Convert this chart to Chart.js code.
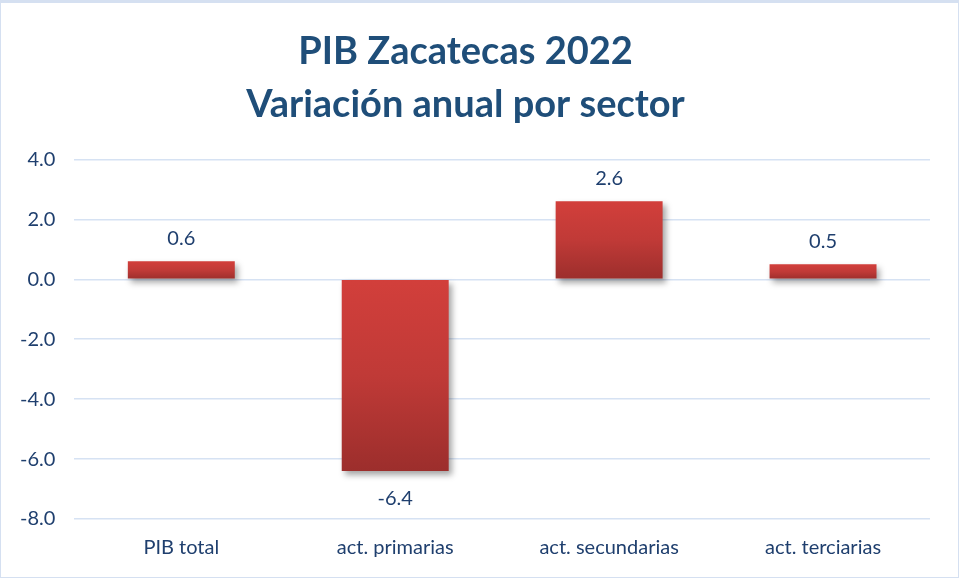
<!DOCTYPE html>
<html lang="es">
<head>
  <meta charset="utf-8">
  <title>PIB Zacatecas 2022</title>
  <script type="text/javascript" src="https://cdn.jsdelivr.net/npm/chart.js"></script>
  <style type="text/css">
    html, body { margin:0; padding:0; background:#fff; }
    #wrap { position:relative; width:957px; height:574px; border:1px solid #d5e0f1; border-top-width:3px; }
  </style>
</head>
<body>

  <div id="wrap">
    <canvas id="chart"></canvas>
  </div>

  <script type="text/javascript">
    const sectores = ['PIB total', 'act. primarias', 'act. secundarias', 'act. terciarias'];
    const variacion = [0.6, -6.4, 2.6, 0.5];
    const titulo = ['PIB Zacatecas 2022', 'Variación anual por sector'];

    const azul = '#1f3f6e';
    const fuente = 'Lato, "Open Sans", sans-serif';

    // vertical red gradient over each bar
    const barFill = (c) => {
      const chart = c.chart;
      if (!chart.chartArea || !chart.scales.y) return '#c0393a';
      const y = chart.scales.y;
      const v = c.raw;
      const top = y.getPixelForValue(Math.max(v, 0));
      const bot = y.getPixelForValue(Math.min(v, 0));
      const g = chart.ctx.createLinearGradient(0, top, 0, bot);
      g.addColorStop(0, '#d23f3b');
      g.addColorStop(0.5, '#c03a37');
      g.addColorStop(1, '#9c2e2c');
      return g;
    };

    const barShadow = {
      id: 'barShadow',
      beforeDatasetDraw(chart) {
        const ctx = chart.ctx;
        ctx.save();
        ctx.shadowColor = 'rgba(0,0,0,0.35)';
        ctx.shadowBlur = 6;
        ctx.shadowOffsetX = 3;
        ctx.shadowOffsetY = 4;
      },
      afterDatasetDraw(chart) {
        chart.ctx.restore();
      }
    };

    const etiquetas = {
      id: 'etiquetas',
      afterDatasetsDraw(chart) {
        const ctx = chart.ctx;
        const meta = chart.getDatasetMeta(0);
        ctx.save();
        ctx.font = '20px ' + fuente;
        ctx.fillStyle = azul;
        ctx.textAlign = 'center';
        ctx.textBaseline = 'middle';
        meta.data.forEach((bar, i) => {
          const v = variacion[i];
          const y = v >= 0 ? bar.y - 23 : bar.y + 27;
          ctx.fillText(v.toFixed(1), bar.x, y);
        });
        ctx.restore();
      }
    };

    new Chart(document.getElementById('chart'), {
      type: 'bar',
      data: {
        labels: sectores,
        datasets: [{
          data: variacion,
          backgroundColor: barFill,
          borderWidth: 0,
          categoryPercentage: 0.5,
          barPercentage: 1
        }]
      },
      options: {
        responsive: true,
        maintainAspectRatio: false,
        animation: false,
        layout: { padding: { left: 0, right: 28, top: 22, bottom: 0 } },
        plugins: {
          legend: { display: false },
          tooltip: { enabled: false },
          title: {
            display: true,
            text: titulo,
            color: '#1f4e79',
            font: { family: fuente, size: 38, weight: 'bold', lineHeight: 1.4 },
            padding: { top: 0, bottom: 28 }
          }
        },
        scales: {
          x: {
            grid: { display: false, drawTicks: false },
            border: { display: false },
            ticks: { color: azul, font: { family: fuente, size: 20 }, padding: 17 }
          },
          y: {
            min: -8,
            max: 4,
            grid: { color: '#d6e2f3', lineWidth: 1.5, drawTicks: false },
            border: { display: false },
            ticks: {
              stepSize: 2,
              color: azul,
              font: { family: fuente, size: 20 },
              padding: 19,
              callback: (v) => Number(v).toFixed(1)
            }
          }
        }
      },
      plugins: [barShadow, etiquetas]
    });
  </script>

</body>
</html>
